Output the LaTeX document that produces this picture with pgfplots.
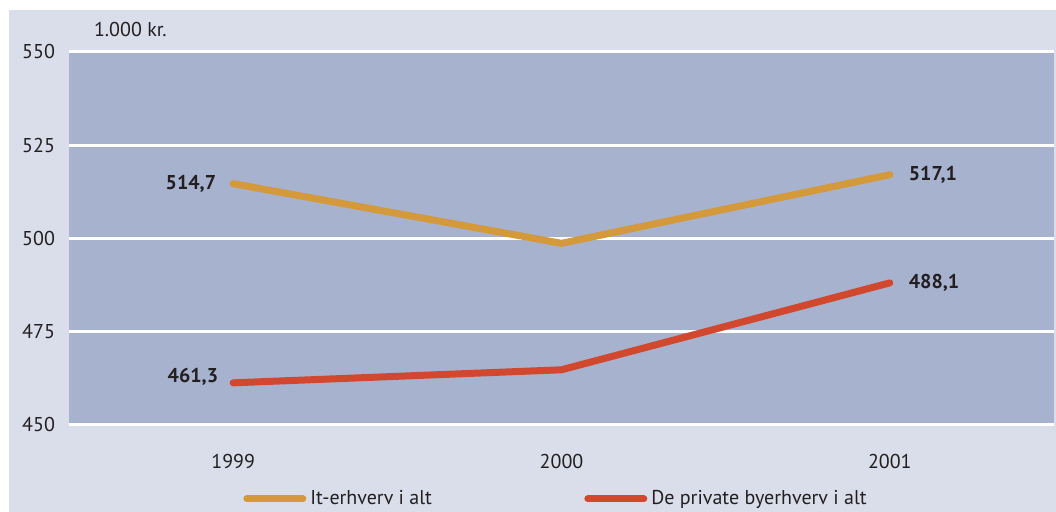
\documentclass[border=0pt]{standalone}
\usepackage{pgfplots}
\pgfplotsset{compat=1.18}
\usepackage{fontspec}
\setmainfont{PT Sans}
\definecolor{outerbg}{HTML}{D9DEEA}
\definecolor{plotbg}{HTML}{A7B2CE}
\definecolor{itcol}{HTML}{D4993A}
\definecolor{privcol}{HTML}{D2482F}
\definecolor{txt}{HTML}{231F20}
\begin{document}
\begin{tikzpicture}[x=1pt,y=1pt]
\useasboundingbox (0,0) rectangle (528,256);
\fill[outerbg] (4.5,0) rectangle (528,251);
\begin{axis}[
  at={(34.5pt,43.5pt)}, anchor=south west,
  scale only axis, width=492.5pt, height=186.5pt,
  xmin=-0.5, xmax=2.5, ymin=450, ymax=550,
  xtick={0,1,2}, xticklabels={1999,2000,2001},
  ytick={450,475,...,550},
  axis background/.style={fill=plotbg},
  axis line style={draw=none},
  ymajorgrids, grid style={white, line width=1.5pt},
  major tick length=0pt,
  tick label style={font=\fontsize{10}{12}\selectfont, text=txt},
  /pgf/number format/assume math mode=true,
  yticklabel style={xshift=-3.5pt},
  xticklabel style={yshift=-11pt},
  legend style={at={(rel axis cs:0.177,-0.198)}, anchor=west, draw=none, fill=none,
    legend columns=2, font=\fontsize{10}{12}\selectfont, text=txt,
    inner sep=0pt, outer sep=0pt,
    /tikz/every even column/.style={column sep=0pt}},
  legend image code/.code={\draw[#1, line width=3.5pt, line cap=round] (0pt,0pt) -- (28pt,0pt);},
  clip=false,
]
\addplot[itcol, line width=3.5pt, line cap=round, line join=round] coordinates {(0,514.7) (1,498.7) (2,517.1)};
\addlegendentry{\makebox[135pt][l]{It-erhverv i alt}}
\addplot[privcol, line width=3.5pt, line cap=round, line join=round] coordinates {(0,461.3) (1,464.8) (2,488.1)};
\addlegendentry{De private byerhverv i alt}
\node[anchor=base west, font=\fontsize{10}{12}\selectfont, text=txt] at ([xshift=9pt,yshift=7.5pt]rel axis cs:0,1) {1.000 kr.};
\begin{scope}[every node/.style={font=\bfseries\fontsize{10}{12}\selectfont, text=txt}]
\node[anchor=east] at ([xshift=-5pt]axis cs:0,514.7) {514,7};
\node[anchor=east] at ([xshift=-4pt,yshift=3pt]axis cs:0,461.3) {461,3};
\node[anchor=west] at ([xshift=6pt]axis cs:2,517.1) {517,1};
\node[anchor=west] at ([xshift=6pt]axis cs:2,488.1) {488,1};
\end{scope}
\end{axis}
\end{tikzpicture}
\end{document}
